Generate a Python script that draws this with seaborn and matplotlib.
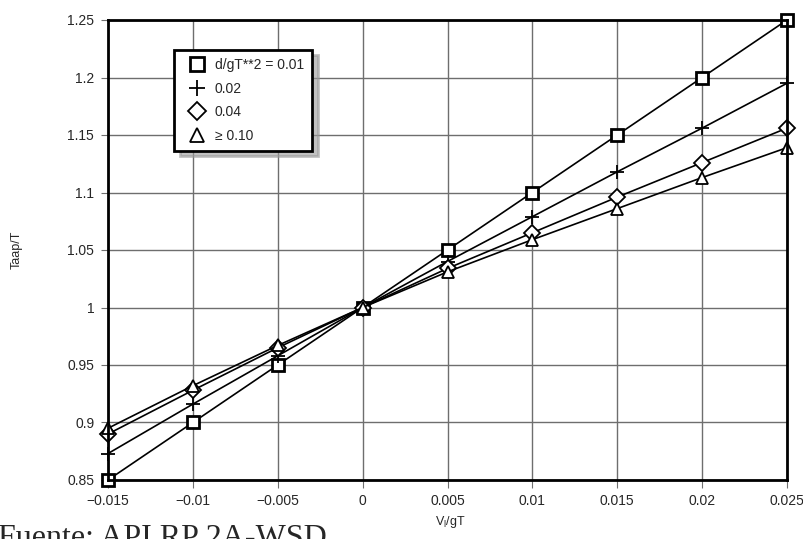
import numpy as np
import pandas as pd
import matplotlib
matplotlib.use("Agg")
import matplotlib.pyplot as plt
from matplotlib.lines import Line2D
from matplotlib.ticker import FuncFormatter
import seaborn as sns

# V_l/gT values along the x axis
vl_gt = [-0.015, -0.01, -0.005, 0.0, 0.005, 0.01, 0.015, 0.02, 0.025]

# Taap/T for each d/gT**2 curve
ratio_001 = [0.850, 0.900, 0.950, 1.000, 1.050, 1.100, 1.150, 1.200, 1.250]
ratio_002 = [0.873, 0.916, 0.958, 1.000, 1.040, 1.079, 1.118, 1.156, 1.195]
ratio_004 = [0.890, 0.928, 0.965, 1.000, 1.034, 1.065, 1.096, 1.126, 1.156]
ratio_010 = [0.895, 0.932, 0.967, 1.000, 1.031, 1.059, 1.086, 1.113, 1.139]

labels = ["d/gT**2 = 0.01", "0.02", "0.04", "\u2265 0.10"]
markers = ["s", "+", "D", "^"]
msizes = [8, 10, 8, 8]
mews = [2.0, 1.3, 1.3, 1.3]

sns.set_style("ticks")
plt.rcParams["font.family"] = ["Liberation Sans", "DejaVu Sans"]

fig = plt.figure(figsize=(8.04, 5.39), dpi=100)
ax = fig.add_axes([108 / 804, 59 / 539, 679 / 804, 460 / 539])

series = [ratio_001, ratio_002, ratio_004, ratio_010]
for vals, m, ms, mew in zip(series, markers, msizes, mews):
    sns.lineplot(x=vl_gt, y=vals, marker=m, color="black", linewidth=1.2,
                 markersize=ms, markerfacecolor="white", markeredgecolor="black",
                 markeredgewidth=mew, legend=False, ax=ax)
for ln in ax.lines:
    ln.set_clip_on(False)

ax.set_xlim(-0.015, 0.025)
ax.set_ylim(0.85, 1.25)
ax.set_xticks(vl_gt)
ax.set_yticks(np.arange(0.85, 1.2501, 0.05))
fmt = FuncFormatter(lambda v, p: ("%g" % round(v, 4)).replace("-", "\u2212"))
ax.xaxis.set_major_formatter(fmt)
ax.yaxis.set_major_formatter(fmt)
ax.tick_params(labelsize=10, length=5.4, width=0.8, color="#707070", pad=4.5)
ax.grid(True, color="#6e6e6e", linewidth=1.0)
ax.set_axisbelow(True)
for s in ax.spines.values():
    s.set_visible(True)
    s.set_linewidth(2)
    s.set_color("black")

ax.set_xlabel("V$_\\mathregular{l}$/gT", fontsize=9)
ax.set_ylabel("Taap/T", fontsize=9)
ax.xaxis.set_label_coords(0.504, -0.074)
ax.yaxis.set_label_coords(-0.125, 0.5)

handles = [Line2D([], [], linestyle="none", marker=m, color="black",
                  markerfacecolor="white", markeredgewidth=mew, markersize=ms + 1.5)
           for m, ms, mew in zip(markers, msizes, mews)]
leg = ax.legend(handles, labels, loc="upper left", bbox_to_anchor=(0.0972, 0.935),
                fontsize=10, frameon=True, fancybox=False, handlelength=2.1,
                handletextpad=0.25, labelspacing=0.68, borderpad=0.6,
                borderaxespad=0,
                shadow={"color": "#999999", "alpha": 0.6, "ox": 4, "oy": -4})
leg.get_frame().set_edgecolor("black")
leg.get_frame().set_linewidth(2)
leg.get_frame().set_alpha(1)

fig.text(-0.003, -0.013, "Fuente: API RP 2A-WSD", fontsize=23,
         family=["Liberation Serif", "DejaVu Serif"], ha="left", va="baseline")

fig.savefig("out.png", dpi=100)
